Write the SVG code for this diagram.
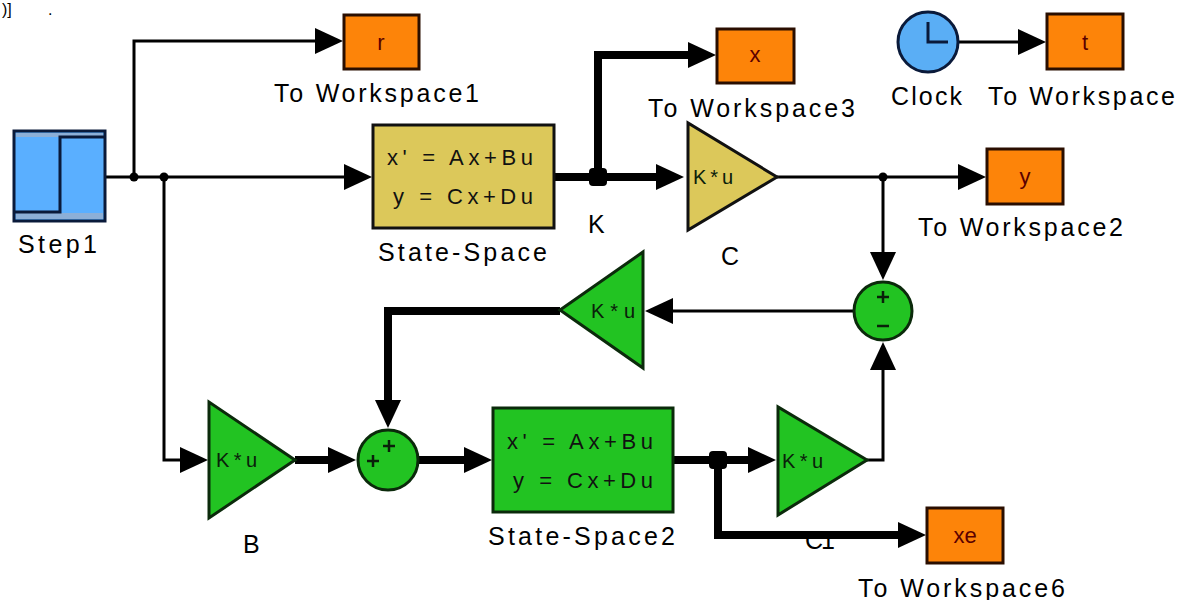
<svg xmlns="http://www.w3.org/2000/svg" width="1178" height="600" viewBox="0 0 1178 600">
<style>
  text { font-family: "Liberation Sans", Arial, sans-serif; }
  .lbl { font-size: 25px; fill: #000; }
  .ws { fill: #fd8409; stroke: #2a0e00; stroke-width: 3; }
  .wst { font-size: 22px; fill: #5a0000; text-anchor: middle; }
  .yel { fill: #dcc85a; stroke: #111; stroke-width: 3; }
  .grn { fill: #22c322; stroke: #0b2a0b; stroke-width: 3; }
  .ss { font-size: 22px; fill: #111; }
  .gain { font-size: 20px; fill: #0a200a; }
  .sgn { stroke: #0a200a; stroke-width: 2.5; fill: none; }
  .thin { fill: none; stroke: #000; stroke-width: 3; marker-end: url(#ah); }
  .thick { fill: none; stroke: #000; stroke-width: 8; marker-end: url(#ah); }
  .dot { fill: #000; }
</style>
<defs>
  <marker id="ah" viewBox="0 0 28 26" refX="1" refY="13" markerWidth="28" markerHeight="26" markerUnits="userSpaceOnUse" orient="auto">
    <path d="M0,0 L28,13 L0,26 z" fill="#000"/>
  </marker>
</defs>
<rect width="1178" height="600" fill="#fff"/>

<text font-size="16" font-family="Liberation Mono, monospace"><tspan x="2" y="15">)]</tspan><tspan x="48" y="15">.</tspan></text>

<g id="connectors">
  <path class="thin" d="M105,177 L345,177"/>
  <path class="thin" d="M134,177 L134,41 L316,41"/>
  <path class="thin" d="M164,177 L164,460 L181,460"/>
  <path class="thin" d="M777,177 L959,177"/>
  <path class="thin" d="M883,177 L883,253"/>
  <path class="thin" d="M853,311 L672,311"/>
  <path class="thin" d="M867,460 L883,460 L883,369"/>
  <path class="thin" d="M958,42 L1019,42"/>
  <path class="thick" d="M554,177 L657,177"/>
  <path class="thick" d="M598,177 L598,55 L689,55"/>
  <path class="thick" d="M560,311 L388,311 L388,401"/>
  <path class="thick" d="M295,460 L329,460"/>
  <path class="thick" d="M418,460 L465,460"/>
  <path class="thick" d="M673,460 L749,460"/>
  <path class="thick" d="M718,460 L718,535 L899,535"/>
  <circle class="dot" cx="134" cy="177" r="4.5"/>
  <circle class="dot" cx="164" cy="177" r="4.5"/>
  <circle class="dot" cx="883" cy="177" r="4.5"/>
  <rect class="dot" x="589" y="168" width="18" height="18" rx="4"/>
  <rect class="dot" x="709" y="451" width="18" height="18" rx="4"/>
</g>

<g id="step1">
  <rect x="14" y="131" width="91" height="90" fill="#5aafff" stroke="#0a1a3a" stroke-width="3"/>
  <rect x="16" y="133" width="87" height="4" fill="#8cafd7"/>
  <rect x="16" y="213" width="87" height="6" fill="#8cafd7"/>
  <path d="M15,212 L60,212 L60,137 L104,137" fill="none" stroke="#0a1a3a" stroke-width="3"/>
  <text class="lbl" x="18" y="253" textLength="79" lengthAdjust="spacing">Step1</text>
</g>

<g id="toworkspace1">
  <rect class="ws" x="344" y="15" width="75" height="54"/>
  <text class="wst" x="381" y="50">r</text>
  <text class="lbl" x="274" y="102" textLength="205" lengthAdjust="spacing">To Workspace1</text>
</g>

<g id="statespace">
  <rect class="yel" x="373" y="125" width="181" height="103"/>
  <text class="ss" x="387" y="165" textLength="146" lengthAdjust="spacing">x' = Ax+Bu</text>
  <text class="ss" x="393" y="204" textLength="140" lengthAdjust="spacing">y = Cx+Du</text>
  <text class="lbl" x="378" y="261" textLength="169" lengthAdjust="spacing">State-Space</text>
</g>

<g id="K">
  <text class="lbl" x="588" y="233">K</text>
</g>

<g id="toworkspace3">
  <rect class="ws" x="717" y="29" width="77" height="54"/>
  <text class="wst" x="755" y="62">x</text>
  <text class="lbl" x="648" y="117" textLength="207" lengthAdjust="spacing">To Workspace3</text>
</g>

<g id="gainC">
  <polygon class="yel" points="688,123 688,230 777,177"/>
  <text class="gain" x="693" y="184" textLength="40" lengthAdjust="spacing">K*u</text>
  <text class="lbl" x="721" y="265">C</text>
</g>

<g id="clock">
  <circle cx="928" cy="42" r="30" fill="#5aaef5" stroke="#0a1a3a" stroke-width="3"/>
  <path d="M928,22 L928,42 L948,42" fill="none" stroke="#0a1a3a" stroke-width="3"/>
  <text class="lbl" x="891" y="105" textLength="71" lengthAdjust="spacing">Clock</text>
</g>

<g id="toworkspace">
  <rect class="ws" x="1047" y="14" width="76" height="55"/>
  <text class="wst" x="1085" y="50">t</text>
  <text class="lbl" x="988" y="105" textLength="187" lengthAdjust="spacing">To Workspace</text>
</g>

<g id="toworkspace2">
  <rect class="ws" x="987" y="149" width="76" height="55"/>
  <text class="wst" x="1025" y="184">y</text>
  <text class="lbl" x="918" y="236" textLength="205" lengthAdjust="spacing">To Workspace2</text>
</g>

<g id="sum2">
  <circle class="grn" cx="883" cy="311" r="29"/>
  <path class="sgn" d="M877,297 L889,297 M883,291 L883,303 M877,326 L889,326"/>
</g>

<g id="gainL">
  <polygon class="grn" points="643,252 643,368 560,310"/>
  <text class="gain" x="591" y="318" textLength="44" lengthAdjust="spacing">K*u</text>
</g>

<g id="gainB">
  <polygon class="grn" points="209,402 209,518 295,460"/>
  <text class="gain" x="216" y="467" textLength="41" lengthAdjust="spacing">K*u</text>
  <text class="lbl" x="243" y="553">B</text>
</g>

<g id="sum1">
  <circle class="grn" cx="388" cy="460" r="30"/>
  <path class="sgn" d="M383,446 L395,446 M389,440 L389,452 M367,461 L379,461 M373,455 L373,467"/>
</g>

<g id="statespace2">
  <rect class="grn" x="493" y="408" width="180" height="104"/>
  <text class="ss" x="507" y="449" textLength="146" lengthAdjust="spacing">x' = Ax+Bu</text>
  <text class="ss" x="513" y="488" textLength="140" lengthAdjust="spacing">y = Cx+Du</text>
  <text class="lbl" x="488" y="545" textLength="187" lengthAdjust="spacing">State-Space2</text>
</g>

<g id="gainC1">
  <polygon class="grn" points="778,407 778,515 867,460"/>
  <text class="gain" x="782" y="468" textLength="41" lengthAdjust="spacing">K*u</text>
  <text class="lbl" x="805" y="549" textLength="30" lengthAdjust="spacing">C1</text>
</g>

<g id="toworkspace6">
  <rect class="ws" x="927" y="508" width="76" height="55"/>
  <text class="wst" x="965" y="543">xe</text>
  <text class="lbl" x="858" y="597" textLength="207" lengthAdjust="spacing">To Workspace6</text>
</g>
</svg>
